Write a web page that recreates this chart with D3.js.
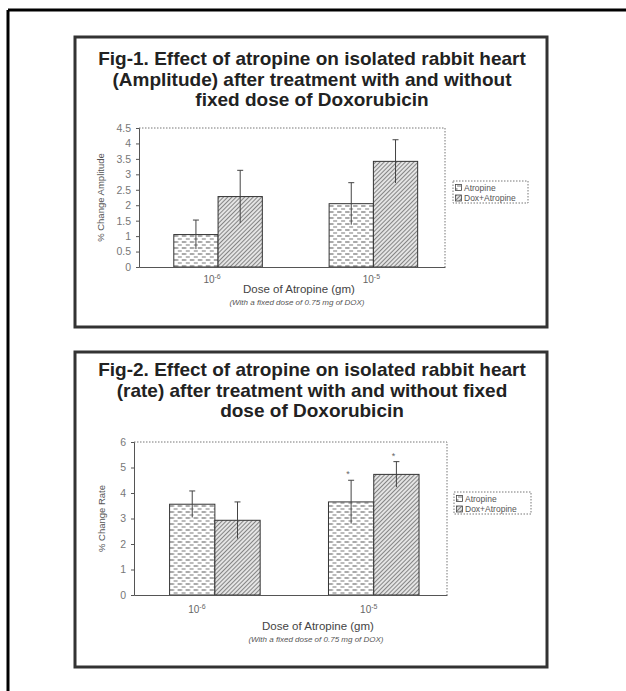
<!DOCTYPE html>
<html>
<head>
<meta charset="utf-8">
<script src="https://cdn.jsdelivr.net/npm/d3@7"></script>
<style>
  body { margin: 0; background: #fff; }
  svg { display: block; }
</style>
</head>
<body>
<div id="chart"></div>
<script>
// data
const doses = ["10^-6", "10^-5"];
const seriesNames = ["Atropine", "Dox+Atropine"];

const ampAtropine = [1.05, 2.05];
const ampDox = [2.28, 3.42];
const ampAtropineErr = [0.47, 0.68];
const ampDoxErr = [0.85, 0.70];
const ampTicks = [0, 0.5, 1, 1.5, 2, 2.5, 3, 3.5, 4, 4.5];

const rateAtropine = [3.56, 3.65];
const rateDox = [2.93, 4.73];
const rateAtropineErr = [0.52, 0.85];
const rateDoxErr = [0.72, 0.50];
const rateTicks = [0, 1, 2, 3, 4, 5, 6];
const rateStars = [false, true];

const W = 626, H = 691;
const FONT = "Liberation Sans, Arial, sans-serif";
const svg = d3.select("#chart").append("svg")
    .attr("width", W)
    .attr("height", H)

// fill patterns
const defs = svg.append("defs");
const dash = defs.append("pattern")
    .attr("id", "dashes")
    .attr("patternUnits", "userSpaceOnUse")
    .attr("width", 8).attr("height", 6);
dash.append("rect").attr("width", 8).attr("height", 6).attr("fill", "#fff");
dash.append("line").attr("x1", 0).attr("x2", 4.5).attr("y1", 2).attr("y2", 2)
    .attr("stroke", "#555").attr("stroke-width", 1);
dash.append("line").attr("x1", 4).attr("x2", 8).attr("y1", 5).attr("y2", 5)
    .attr("stroke", "#777").attr("stroke-width", 1);

const hatch = defs.append("pattern")
    .attr("id", "hatch")
    .attr("patternUnits", "userSpaceOnUse")
    .attr("width", 3).attr("height", 3)
    .attr("patternTransform", "rotate(45)");
hatch.append("rect").attr("width", 3).attr("height", 3).attr("fill", "#e4e4e4");
hatch.append("line").attr("x1", 0).attr("x2", 0).attr("y1", 0).attr("y2", 3)
    .attr("stroke", "#444").attr("stroke-width", 1.2);

const fills = ["url(#dashes)", "url(#hatch)"];

// page frame (top + left edges of the scanned sheet)
svg.append("line").attr("x1", 8).attr("x2", W).attr("y1", 10).attr("y2", 10)
    .attr("stroke", "#000").attr("stroke-width", 3);
svg.append("line").attr("x1", 8).attr("x2", 8).attr("y1", 10).attr("y2", H)
    .attr("stroke", "#000").attr("stroke-width", 3);

function drawFigure(cfg) {
    // outer box
    svg.append("rect")
        .attr("x", cfg.box[0]).attr("y", cfg.box[1])
        .attr("width", cfg.box[2]).attr("height", cfg.box[3])
        .attr("fill", "none").attr("stroke", "#333").attr("stroke-width", 3);

    // title, one text per line
    cfg.title.forEach((line, i) => {
        svg.append("text")
            .attr("x", 312).attr("y", cfg.titleY + i * 20.5)
            .attr("text-anchor", "middle")
            .attr("font-family", FONT)
            .attr("font-weight", "bold")
            .attr("font-size", "19px")
            .attr("fill", "#222")
            .text(line);
    });

    const x0 = d3.scaleBand().domain(doses)
        .range([cfg.left, cfg.right])
        .paddingInner(0.43).paddingOuter(0.2).align(0.56);
    const x1 = d3.scaleBand().domain(seriesNames)
        .range([0, x0.bandwidth()]).padding(0);
    const y = d3.scaleLinear().domain([0, d3.max(cfg.ticks)])
        .range([cfg.bottom, cfg.top]);

    const g = svg.append("g");

    // dotted plot frame (top + right)
    g.append("path")
        .attr("d", `M${cfg.left},${cfg.top}H${cfg.right}V${cfg.bottom}`)
        .attr("fill", "none").attr("stroke", "#777")
        .attr("stroke-width", 1).attr("stroke-dasharray", "1.5,1.5");

    // bars
    const rows = doses.map((d, i) => ({
        dose: d,
        vals: [
            { s: seriesNames[0], v: cfg.a[i], e: cfg.aErr[i], k: 0 },
            { s: seriesNames[1], v: cfg.d[i], e: cfg.dErr[i], k: 1 }
        ],
        i: i
    }));

    const grp = g.selectAll(".grp").data(rows).enter().append("g")
        .attr("transform", d => `translate(${x0(d.dose)},0)`);

    grp.selectAll("rect").data(d => d.vals).enter().append("rect")
        .attr("x", d => x1(d.s))
        .attr("y", d => y(d.v))
        .attr("width", x1.bandwidth())
        .attr("height", d => cfg.bottom - y(d.v))
        .attr("fill", d => fills[d.k])
        .attr("stroke", "#333").attr("stroke-width", 1);

    // error bars
    grp.selectAll(".err").data(d => d.vals).enter().append("path")
        .attr("class", "err")
        .attr("d", d => {
            const cx = x1(d.s) + x1.bandwidth() / 2;
            return `M${cx},${y(d.v - d.e)}V${y(d.v + d.e)}M${cx - 3},${y(d.v + d.e)}H${cx + 3}`;
        })
        .attr("fill", "none").attr("stroke", "#444").attr("stroke-width", 1);

    if (cfg.stars) {
        grp.filter(d => cfg.stars[d.i]).selectAll(".star").data(d => d.vals).enter().append("text")
            .attr("x", d => x1(d.s) + x1.bandwidth() / 2 - 3)
            .attr("y", d => y(d.v + d.e) - 3)
            .attr("text-anchor", "middle")
            .attr("font-family", FONT)
            .attr("font-size", "9px").attr("fill", "#666")
            .text("*");
    }

    // axes
    const ya = g.append("g").attr("transform", `translate(${cfg.left},0)`)
        .call(d3.axisLeft(y).tickValues(cfg.ticks).tickSize(3).tickPadding(5).tickFormat(d => String(d)));
    ya.select(".domain").attr("stroke", "#555");
    ya.selectAll(".tick line").attr("stroke", "#555");
    ya.selectAll("text").attr("fill", "#777")
        .attr("font-family", FONT).attr("font-size", "10.5px");

    const xa = g.append("g").attr("transform", `translate(0,${cfg.bottom})`)
        .call(d3.axisBottom(x0).tickSize(0).tickPadding(cfg.xPad));
    xa.select(".domain").attr("stroke", "#555");
    xa.selectAll("text").attr("fill", "#666")
        .attr("font-family", FONT).attr("font-size", "10px")
        .attr("dx", (d, i) => cfg.xShift[i])
        .each(function(d) {
            const parts = d.split("^");
            const el = d3.select(this).text(parts[0]);
            el.append("tspan").attr("dy", -4).attr("font-size", "7px").text(parts[1]);
        });

    // axis titles
    g.append("text")
        .attr("transform", `translate(${cfg.yLabelX},${(cfg.top + cfg.bottom) / 2}) rotate(-90)`)
        .attr("text-anchor", "middle")
        .attr("font-family", FONT)
        .attr("font-size", "9.5px").attr("fill", "#555")
        .text(cfg.yLabel);

    g.append("text")
        .attr("x", cfg.xTitleX).attr("y", cfg.xTitleY)
        .attr("text-anchor", "middle")
        .attr("font-family", FONT)
        .attr("font-size", "11.5px").attr("fill", "#444")
        .text("Dose of Atropine (gm)");
    g.append("text")
        .attr("x", cfg.xTitleX - 2).attr("y", cfg.xTitleY + 12)
        .attr("text-anchor", "middle")
        .attr("font-family", FONT)
        .attr("font-size", "8px").attr("font-style", "italic").attr("fill", "#555")
        .text("(With a fixed dose of 0.75 mg of DOX)");

    // legend
    const lg = g.append("g").attr("transform", `translate(${cfg.legend[0]},${cfg.legend[1]})`);
    lg.append("rect").attr("width", cfg.legend[2]).attr("height", 22)
        .attr("fill", "#fff").attr("stroke", "#777").attr("stroke-dasharray", "1.5,1.5");
    seriesNames.forEach((s, i) => {
        lg.append("rect").attr("x", 2.5).attr("y", 3.5 + i * 10.5)
            .attr("width", 6).attr("height", 6)
            .attr("fill", fills[i]).attr("stroke", "#444").attr("stroke-width", 0.8);
        lg.append("text").attr("x", 11).attr("y", 9.5 + i * 10.5)
            .attr("font-family", FONT)
            .attr("font-size", "8.5px").attr("fill", "#555")
            .text(s);
    });
}

drawFigure({
    box: [75, 37, 472, 290],
    title: ["Fig-1. Effect of atropine on isolated rabbit heart",
            "(Amplitude) after treatment with and without",
            "fixed dose of Doxorubicin"],
    titleY: 65,
    left: 139, right: 445, top: 128, bottom: 267,
    ticks: ampTicks,
    a: ampAtropine, d: ampDox, aErr: ampAtropineErr, dErr: ampDoxErr,
    xPad: 9, xShift: [-6, -2],
    yLabel: "% Change Amplitude", yLabelX: 104,
    xTitleX: 299, xTitleY: 293,
    legend: [453, 181, 75]
});

drawFigure({
    box: [75, 352, 472, 315],
    title: ["Fig-2. Effect of atropine on isolated rabbit heart",
            "(rate) after treatment with and without fixed",
            "dose of Doxorubicin"],
    titleY: 376,
    left: 134, right: 447, top: 442, bottom: 595,
    ticks: rateTicks,
    a: rateAtropine, d: rateDox, aErr: rateAtropineErr, dErr: rateDoxErr,
    stars: rateStars,
    xPad: 11, xShift: [-18, -5],
    yLabel: "% Change Rate", yLabelX: 105,
    xTitleX: 318, xTitleY: 630,
    legend: [454, 492, 77]
});
</script>
</body>
</html>
